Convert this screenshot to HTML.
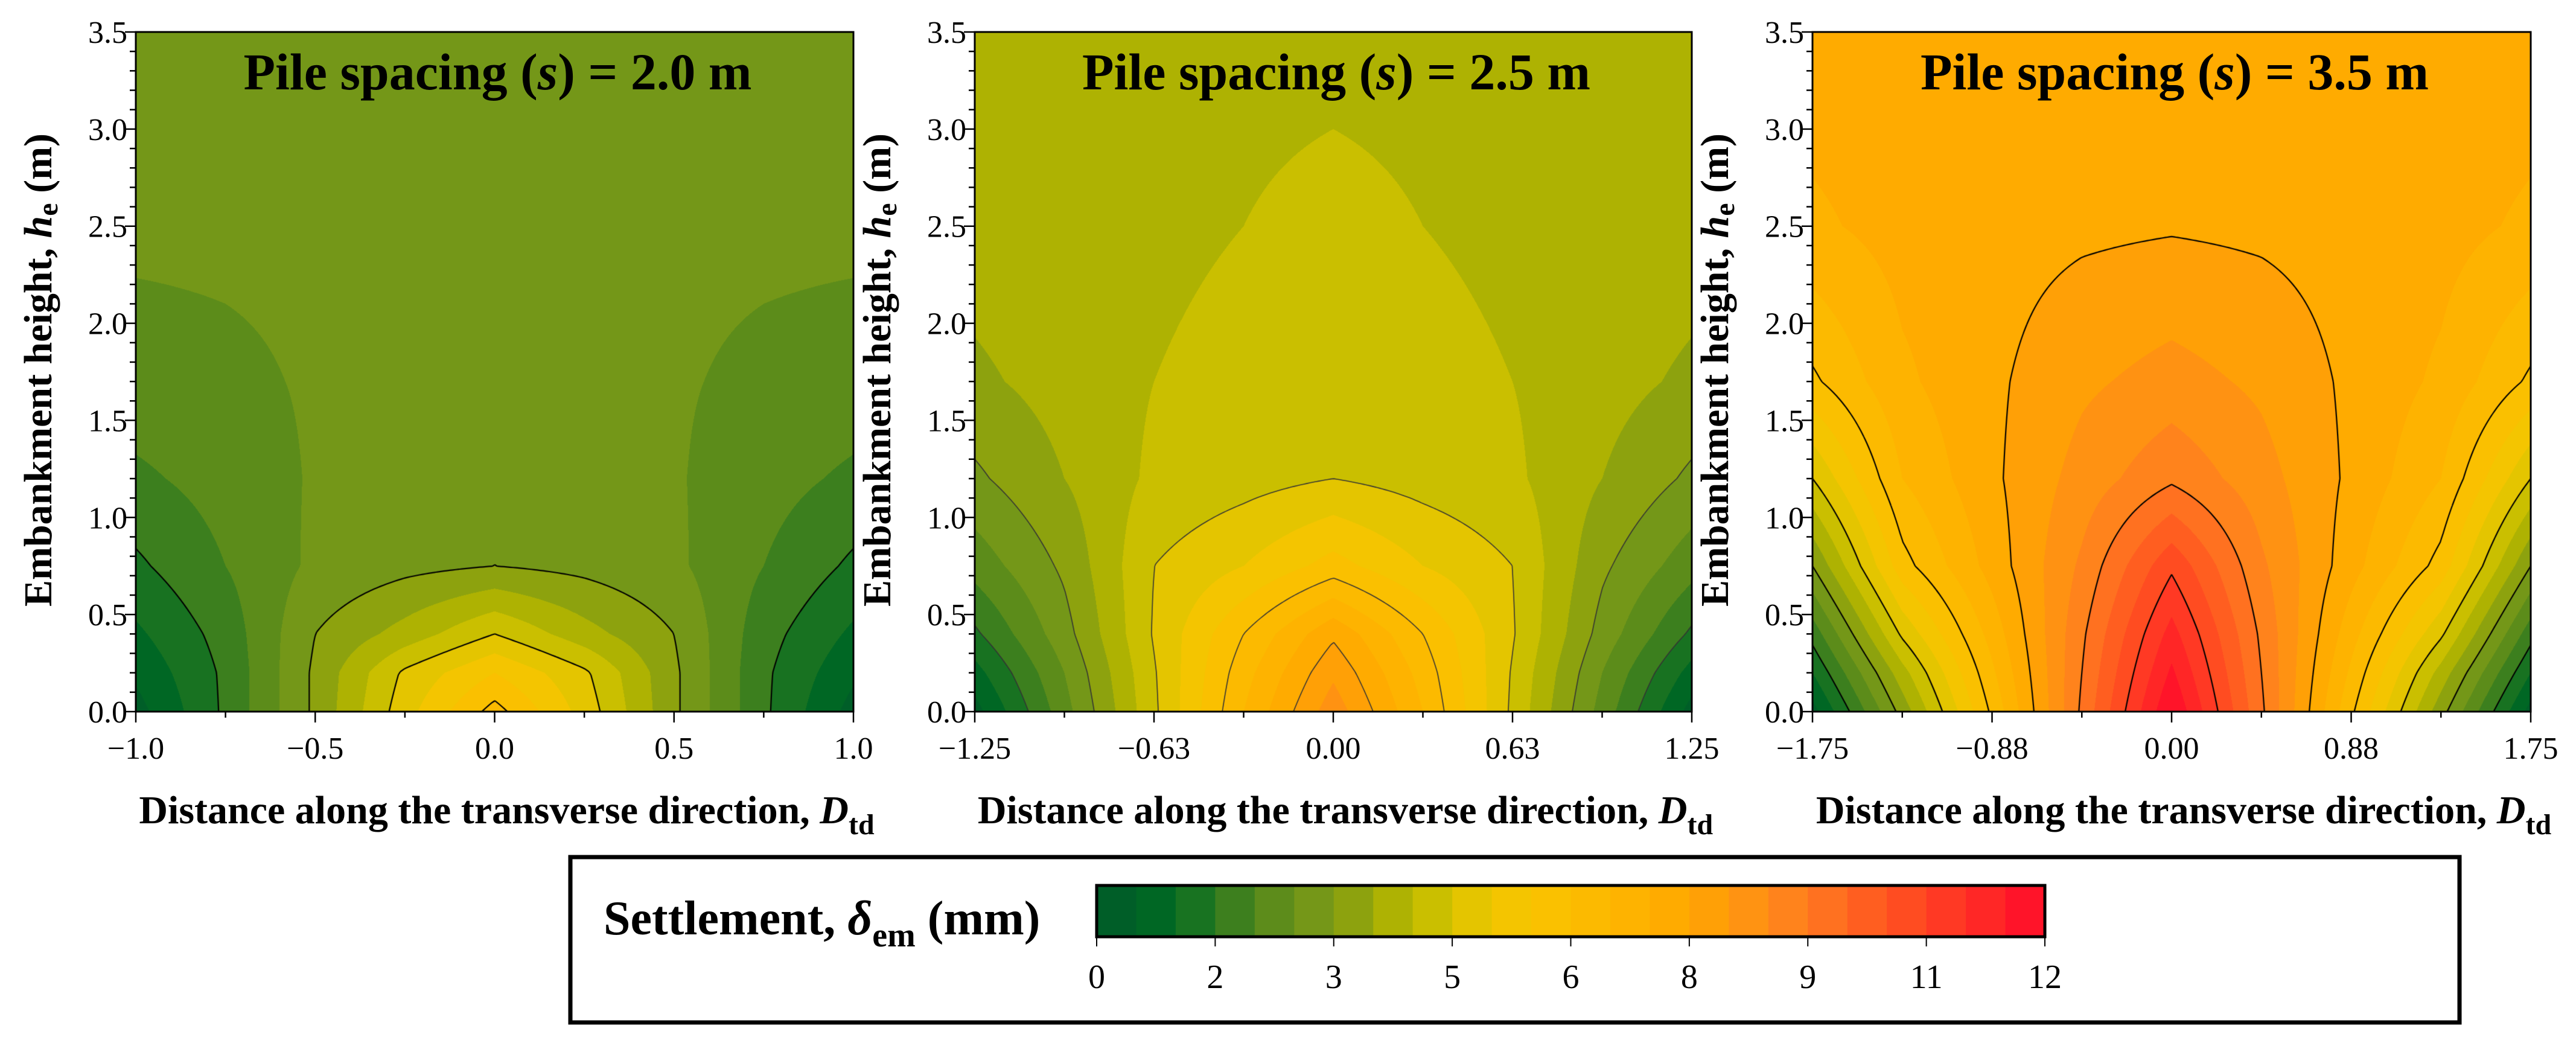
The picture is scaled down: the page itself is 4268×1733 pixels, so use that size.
<!DOCTYPE html>
<html><head><meta charset="utf-8"><style>
html,body{margin:0;padding:0;background:#fff;}
#root{position:relative;width:4268px;height:1733px;overflow:hidden;font-family:"Liberation Serif",serif;}
canvas{position:absolute;}
svg{position:absolute;left:0;top:0;font-family:"Liberation Serif",serif;}
</style></head><body>
<div id="root">
<canvas id="c0"></canvas>
<canvas id="c1"></canvas>
<canvas id="c2"></canvas>
<svg id="ov" width="4268" height="1733" font-family="Liberation Serif, serif"></svg>
</div>
<script>
// ---- data ----
const gridFracs = [0, 0.25, 0.5, 0.75, 1.0];
const gridHeights = [0, 0.2, 0.4, 0.75, 1.2, 1.7, 2.5, 3.5];
const fieldS20 = [
  [6.2, 5.5, 4.5, 3.0, 2.9, 2.8, 2.65, 2.6],
  [4.8, 4.6, 3.7, 2.85, 2.8, 2.7, 2.6, 2.6],
  [3.1, 3.1, 3.0, 2.6, 2.55, 2.55, 2.6, 2.6],
  [1.6, 1.6, 1.7, 2.0, 2.2, 2.4, 2.6, 2.6],
  [0.3, 0.6, 0.9, 1.4, 1.9, 2.3, 2.6, 2.6]
];
const fieldS25 = [
  [8.3, 7.9, 7.4, 5.7, 4.5, 4.3, 4.1, 3.9],
  [6.5, 6.3, 6.0, 5.0, 4.3, 4.15, 4.0, 3.9],
  [4.4, 4.45, 4.55, 4.5, 4.1, 4.0, 3.9, 3.9],
  [2.3, 2.5, 2.8, 3.1, 3.5, 3.7, 3.85, 3.9],
  [0.3, 0.8, 1.4, 2.2, 2.9, 3.4, 3.75, 3.9]
];
const fieldS35 = [
  [12.0, 11.6, 11.2, 10.4, 8.9, 8.2, 7.45, 7.3],
  [9.1, 9.0, 8.9, 8.6, 8.2, 7.9, 7.4, 7.3],
  [6.1, 6.4, 6.7, 7.2, 7.4, 7.4, 7.3, 7.3],
  [3.2, 3.8, 4.6, 5.8, 6.5, 6.9, 7.2, 7.3],
  [0.3, 1.0, 1.7, 3.0, 4.5, 5.9, 6.9, 7.3]
];
const contourLevels = [1.5, 3, 4.5, 6, 7.5, 9, 10.5];
const titles = ["2.0", "2.5", "3.5"];
const halfSpans = [1.0, 1.25, 1.75];
const xTickVals0 = [-1.0, -0.5, 0.0, 0.5, 1.0];
const xTickLabels0 = ["\u22121.0", "\u22120.5", "0.0", "0.5", "1.0"];
const xTickVals1 = [-1.25, -0.625, 0, 0.625, 1.25];
const xTickLabels1 = ["\u22121.25", "\u22120.63", "0.00", "0.63", "1.25"];
const xTickVals2 = [-1.75, -0.875, 0, 0.875, 1.75];
const xTickLabels2 = ["\u22121.75", "\u22120.88", "0.00", "0.88", "1.75"];
const yTickVals = [0, 0.5, 1.0, 1.5, 2.0, 2.5, 3.0, 3.5];
const yTickLabels = ["0.0", "0.5", "1.0", "1.5", "2.0", "2.5", "3.0", "3.5"];
const cbTickLabels = ["0", "2", "3", "5", "6", "8", "9", "11", "12"];
const cbStopVals = [0, 1, 1.5, 2, 2.5, 3, 3.5, 4, 4.5, 5, 5.5, 6, 7, 7.5, 8.5, 9, 10, 11, 12];
const cbStopCols = ["#005a2a","#006b22","#2f7a20","#4a841c","#6f9419","#7a9a16","#a0aa05","#bcba00","#d8c400","#f0c600","#f8c400","#fbbd00","#ffb000","#ffa600","#ff8c18","#ff7a20","#ff5520","#ff3025","#ff0a2a"];

// ---- layout ----
const panels = [
  {L:225, R:1414, field:fieldS20, xv:xTickVals0, xl:xTickLabels0, lw:2.2, lc:"#000"},
  {L:1615, R:2803, field:fieldS25, xv:xTickVals1, xl:xTickLabels1, lw:1.6, lc:"#333"},
  {L:3003, R:4193, field:fieldS35, xv:xTickVals2, xl:xTickLabels2, lw:2.2, lc:"#000"}
];
const T = 53, B = 1179, YMAX = 3.5;
const FF = '"Liberation Serif", serif';

function hex(c){return [parseInt(c.substr(1,2),16),parseInt(c.substr(3,2),16),parseInt(c.substr(5,2),16)];}
const stopRGB = cbStopCols.map(hex);
function cmap(v){
  v = Math.max(0, Math.min(11.999, v));
  v = Math.floor(v/0.5)*0.5 + 0.25;
  for (let i=0;i<cbStopVals.length-1;i++){
    if (v<=cbStopVals[i+1]){
      const t=(v-cbStopVals[i])/(cbStopVals[i+1]-cbStopVals[i]);
      const a=stopRGB[i], b=stopRGB[i+1];
      return [a[0]+(b[0]-a[0])*t, a[1]+(b[1]-a[1])*t, a[2]+(b[2]-a[2])*t];
    }
  }
  return stopRGB[stopRGB.length-1];
}
function interp(arr, v){
  for (let i=0;i<arr.length-1;i++) if (v<=arr[i+1]) return [i,(v-arr[i])/(arr[i+1]-arr[i])];
  return [arr.length-2,1];
}
function fieldVal(field, frac, h){
  const [i,tx]=interp(gridFracs, Math.min(1,frac));
  const [j,ty]=interp(gridHeights, Math.min(YMAX,h));
  const a=field[i][j], b=field[i+1][j], c=field[i][j+1], d=field[i+1][j+1];
  return (a*(1-tx)+b*tx)*(1-ty)+(c*(1-tx)+d*tx)*ty;
}

panels.forEach((p, k) => {
  const W = p.R-p.L, H = B-T;
  const cv = document.getElementById('c'+k);
  cv.width=W; cv.height=H; cv.style.left=p.L+'px'; cv.style.top=T+'px';
  const ctx = cv.getContext('2d');
  const img = ctx.createImageData(W,H);
  const hs = halfSpans[k];
  const val = (px,py) => {
    const x = (px/W)*2*hs - hs;
    const h = (1 - py/H)*YMAX;
    return fieldVal(p.field, Math.abs(x)/hs, h);
  };
  for (let y=0;y<H;y++) for (let x=0;x<W;x++){
    const c = cmap(val(x+0.5,y+0.5));
    const o=(y*W+x)*4;
    img.data[o]=c[0]; img.data[o+1]=c[1]; img.data[o+2]=c[2]; img.data[o+3]=255;
  }
  ctx.putImageData(img,0,0);
  const s=5, nx=Math.ceil(W/s), ny=Math.ceil(H/s);
  const g=[];
  for (let j=0;j<=ny;j++){const row=[];for(let i=0;i<=nx;i++)row.push(val(Math.min(W,i*s),Math.min(H,j*s)));g.push(row);}
  ctx.strokeStyle=p.lc; ctx.lineWidth=p.lw; ctx.beginPath();
  contourLevels.forEach(lv => {
    for (let j=0;j<ny;j++) for (let i=0;i<nx;i++){
      const x0=i*s,y0=j*s,x1=Math.min(W,x0+s),y1=Math.min(H,y0+s);
      const v=[g[j][i],g[j][i+1],g[j+1][i+1],g[j+1][i]];
      const P=[[x0,y0],[x1,y0],[x1,y1],[x0,y1]];
      const pts=[];
      for (let e=0;e<4;e++){
        const a=v[e], b=v[(e+1)%4];
        if ((a<lv)!==(b<lv)){
          const t=(lv-a)/(b-a), A=P[e], Bp=P[(e+1)%4];
          pts.push([A[0]+(Bp[0]-A[0])*t, A[1]+(Bp[1]-A[1])*t]);
        }
      }
      for (let q=0;q+1<pts.length;q+=2){ctx.moveTo(pts[q][0],pts[q][1]);ctx.lineTo(pts[q+1][0],pts[q+1][1]);}
    }
  });
  ctx.stroke();
});

// ---- SVG overlay ----
const NS="http://www.w3.org/2000/svg";
const ov=document.getElementById('ov');
function mk(tag, attrs, parent, text){
  const e=document.createElementNS(NS,tag);
  for (const a in attrs) e.setAttribute(a, attrs[a]);
  if (tag==='text') e.style.fontFamily=FF;
  if (text!==undefined) e.textContent=text;
  (parent||ov).appendChild(e); return e;
}
panels.forEach((p,k)=>{
  const g=mk('g',{});
  
  
  const hs=halfSpans[k];
  const xs=v=>p.L+(v+hs)/(2*hs)*(p.R-p.L);
  const ys=h=>B-(h/YMAX)*(B-T);
  const fr=mk('rect',{x:p.L,y:T,width:p.R-p.L,height:B-T,fill:'none',stroke:'#000','stroke-width':3},g);
   
  for (let m=0;m<=35;m++){
    const y=ys(m*0.1), major=(m%5===0);
    mk('line',{x1:p.L,x2:p.L-(major?18:10),y1:y,y2:y,stroke:'#000','stroke-width':2.5},g);
  }
  yTickVals.forEach((v,i)=>{
    const t=mk('text',{x:p.L-14,y:ys(v)+18,'text-anchor':'end','font-size':52,fill:'#000'},g,yTickLabels[i]);
     
  });
  for (let i=0;i<p.xv.length;i++){
    mk('line',{x1:xs(p.xv[i]),x2:xs(p.xv[i]),y1:B,y2:B+18,stroke:'#000','stroke-width':2.5},g);
    if (i<p.xv.length-1){const mv=(p.xv[i]+p.xv[i+1])/2; mk('line',{x1:xs(mv),x2:xs(mv),y1:B,y2:B+10,stroke:'#000','stroke-width':2.5},g);}
    const t=mk('text',{x:xs(p.xv[i]),y:1257,'text-anchor':'middle','font-size':52,fill:'#000'},g,p.xl[i]);
     
  }
  const cx=(p.L+p.R)/2;
  const tt=mk('text',{x:cx+5,y:148,'text-anchor':'middle','font-size':86,'font-weight':'bold',fill:'#000'},g);
   
  mk('tspan',{},tt,'Pile spacing (');
  mk('tspan',{'font-style':'italic'},tt,'s');
  mk('tspan',{},tt,') = '+titles[k]+' m');
  const xt=mk('text',{x:cx+20,y:1364,'text-anchor':'middle','font-size':66,'font-weight':'bold',fill:'#000'},g);
   
  mk('tspan',{},xt,'Distance along the transverse direction, ');
  mk('tspan',{'font-style':'italic'},xt,'D');
  mk('tspan',{dy:18,'font-size':48},xt,'td');
  const ytx=p.L-155, yty=613;
  const yt=mk('text',{x:ytx,y:yty,transform:`rotate(-90 ${ytx} ${yty})`,'text-anchor':'middle','dominant-baseline':'middle','font-size':66,'font-weight':'bold',fill:'#000'},g);
   
  mk('tspan',{},yt,'Embankment height, ');
  mk('tspan',{'font-style':'italic'},yt,'h');
  mk('tspan',{dy:14,'font-size':48},yt,'e');
  mk('tspan',{dy:-14},yt,' (m)');
});

// ---- colorbar legend ----
const lg=mk('g',{});
 
mk('rect',{x:945,y:1420,width:3130,height:274,fill:'#fff',stroke:'#000','stroke-width':7},lg);
const lt=mk('text',{x:1000,y:1548,'font-size':80,'font-weight':'bold',fill:'#000'},lg);
 
mk('tspan',{},lt,'Settlement, ');
mk('tspan',{'font-style':'italic'},lt,'\u03B4');
mk('tspan',{dy:20,'font-size':56},lt,'em');
mk('tspan',{dy:-20},lt,' (mm)');
const CB0=1817, CB1=3388, CBT=1467, CBB=1552;
const nb=24;
for (let i=0;i<nb;i++){
  const v0=i*12/nb, c=cmap(v0+0.01);
  const r=mk('rect',{x:CB0+(v0/12)*(CB1-CB0),y:CBT,width:(CB1-CB0)/nb+1,height:CBB-CBT,fill:`rgb(${c.map(Math.round).join(',')})`},lg);
   
}
mk('rect',{x:CB0,y:CBT,width:CB1-CB0,height:CBB-CBT,fill:'none',stroke:'#000','stroke-width':5},lg);
cbTickLabels.forEach((l,i)=>{
  const x=CB0+i*(CB1-CB0)/(cbTickLabels.length-1);
  mk('line',{x1:x,x2:x,y1:CBB,y2:1568,stroke:'#000','stroke-width':2},lg);
  const t=mk('text',{x:x,y:1637,'text-anchor':'middle','font-size':56,fill:'#000'},lg,l);
   
});
</script>
</body></html>
